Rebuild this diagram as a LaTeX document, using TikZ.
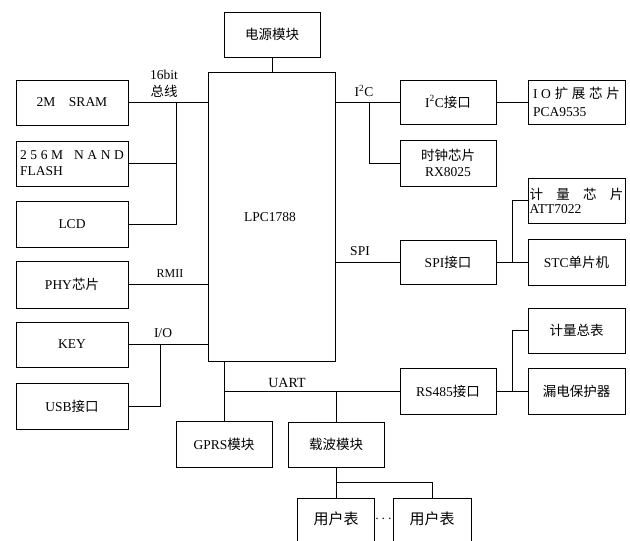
\documentclass[tikz,border=0pt]{standalone}
\usepackage{fontspec}
\setmainfont{Liberation Serif}
\newfontfamily\zh{Noto Sans CJK SC}
\begin{document}
\begin{tikzpicture}[x=1pt,y=-1pt,
  font=\fontsize{13.5}{16}\selectfont,
  box/.style={draw, line width=0.9pt, inner sep=0pt, align=center},
  wire/.style={line width=0.9pt},
  lbl/.style={inner sep=0pt}]
\useasboundingbox (0,0) rectangle (630,541);
% boxes
\node[box, minimum width=96pt, minimum height=45pt] (pwr) at (272,34.5) {\zh 电源模块};
\node[box, minimum width=127pt, minimum height=289pt] (mcu) at (271.5,216.5) {};
\node[lbl] (mcut) at (270,217) {LPC1788};
\node[box, minimum width=112pt, minimum height=45pt] (sram) at (72,102.5) {2M\hspace{1em}SRAM};
\node[box, minimum width=112pt, minimum height=45pt, align=left, text width=104pt] (nand) at (72,163.5)
  {\makebox[104pt][s]{2\hfil 5\hfil 6\hfil M\hfil\hfil\hfil N\hfil A\hfil N\hfil D}\\FLASH};
\node[box, minimum width=112pt, minimum height=46pt] (lcd) at (72,224) {LCD};
\node[box, minimum width=112pt, minimum height=47pt] (phy) at (72,284.5) {PHY{\zh 芯片}};
\node[box, minimum width=112pt, minimum height=45pt] (key) at (72,344.5) {KEY};
\node[box, minimum width=112pt, minimum height=46pt] (usb) at (72,406) {USB{\zh 接口}};
\node[box, minimum width=96pt, minimum height=44pt] (i2c) at (448,102) {I\textsuperscript{2}C{\zh 接口}};
\node[box, minimum width=96pt, minimum height=46pt] (rtc) at (448,163) {{\zh 时钟芯片}\\RX8025};
\node[box, minimum width=97pt, minimum height=44pt, align=left, text width=87pt] (ioexp) at (576.5,102)
  {\makebox[87pt][s]{I\hfil O\hfil\zh 扩\hfil 展\hfil 芯\hfil 片}\\[2pt]PCA9535};
\node[box, minimum width=97pt, minimum height=45pt, align=left, text width=94pt] (meter) at (576.5,200.5)
  {\makebox[94pt][s]{\zh 计\hfil 量\hfil 芯\hfil 片}\\[-2pt]ATT7022};
\node[box, minimum width=97pt, minimum height=46pt] (stc) at (576.5,262) {STC{\zh 单片机}};
\node[box, minimum width=96pt, minimum height=44pt] (spi) at (448,262) {SPI{\zh 接口}};
\node[box, minimum width=97pt, minimum height=45pt] (total) at (576.5,330.5) {\zh 计量总表};
\node[box, minimum width=97pt, minimum height=46pt] (leak) at (576.5,391) {\zh 漏电保护器};
\node[box, minimum width=96pt, minimum height=46pt] (rs485) at (448,391) {RS485{\zh 接口}};
\node[box, minimum width=96pt, minimum height=46pt] (gprs) at (224,444) {GPRS{\zh 模块}};
\node[box, minimum width=96pt, minimum height=45pt] (carrier) at (336,444.5) {\zh 载波模块};
\node[box, minimum width=77pt, minimum height=50pt, anchor=north] (user1) at (336,498) {};
\node[box, minimum width=78pt, minimum height=50pt, anchor=north] (user2) at (432,498) {};
\node[lbl, font=\fontsize{15}{18}\selectfont\zh] (u1t) at (336,519) {用户表};
\node[lbl, font=\fontsize{15}{18}\selectfont\zh] (u2t) at (432,519) {用户表};
\node[lbl] (dots) at (383.5,519.5) {$\cdots$};
% labels
\node[lbl] (l16) at (164,75) {16bit};
\node[lbl] (lbus) at (164,91) {\zh 总线};
\node[lbl, font=\fontsize{12}{14}\selectfont] (lrmii) at (170,274) {RMII};
\node[lbl] (lio) at (163,333) {I/O};
\node[lbl, font=\fontsize{14}{16}\selectfont] (luart) at (287,383) {UART};
\node[lbl] (li2c) at (364,91) {I\textsuperscript{2}C};
\node[lbl] (lspi) at (360,251) {SPI};
% helper coordinates
\coordinate (busx) at (176,0);
\coordinate (usbx) at (160,0);
\coordinate (i2cx) at (369,0);
\coordinate (brx) at (512,0);
\coordinate (ujn) at (336,482);
% connectors
\draw[wire] (pwr.south) -- (pwr.south |- mcu.north);
\draw[wire] (sram.east) -- (sram.east -| mcu.west);
\draw[wire] (sram.east -| busx) |- (lcd.east);
\draw[wire] (nand.east) -- (nand.east -| busx);
\draw[wire] (phy.east) -- (phy.east -| mcu.west);
\draw[wire] (key.east) -- (key.east -| mcu.west);
\draw[wire] (usb.east) -| (key.east -| usbx);
\draw[wire] (mcu.south -| gprs.north) -- (gprs.north);
\draw[wire] (rs485.west -| gprs.north) -- (rs485.west);
\draw[wire] (rs485.west -| carrier.north) -- (carrier.north);
\draw[wire] (carrier.south) -- (user1.north);
\draw[wire] (ujn) -| (user2.north);
\draw[wire] (i2c.west -| mcu.east) -- (i2c.west);
\draw[wire] (i2c.west -| i2cx) |- (rtc.west);
\draw[wire] (i2c.east) -- (ioexp.west);
\draw[wire] (spi.west -| mcu.east) -- (spi.west);
\draw[wire] (spi.east) -- (stc.west);
\draw[wire] (spi.east -| brx) |- (meter.west);
\draw[wire] (rs485.east) -- (leak.west);
\draw[wire] (rs485.east -| brx) |- (total.west);
\end{tikzpicture}
\end{document}
